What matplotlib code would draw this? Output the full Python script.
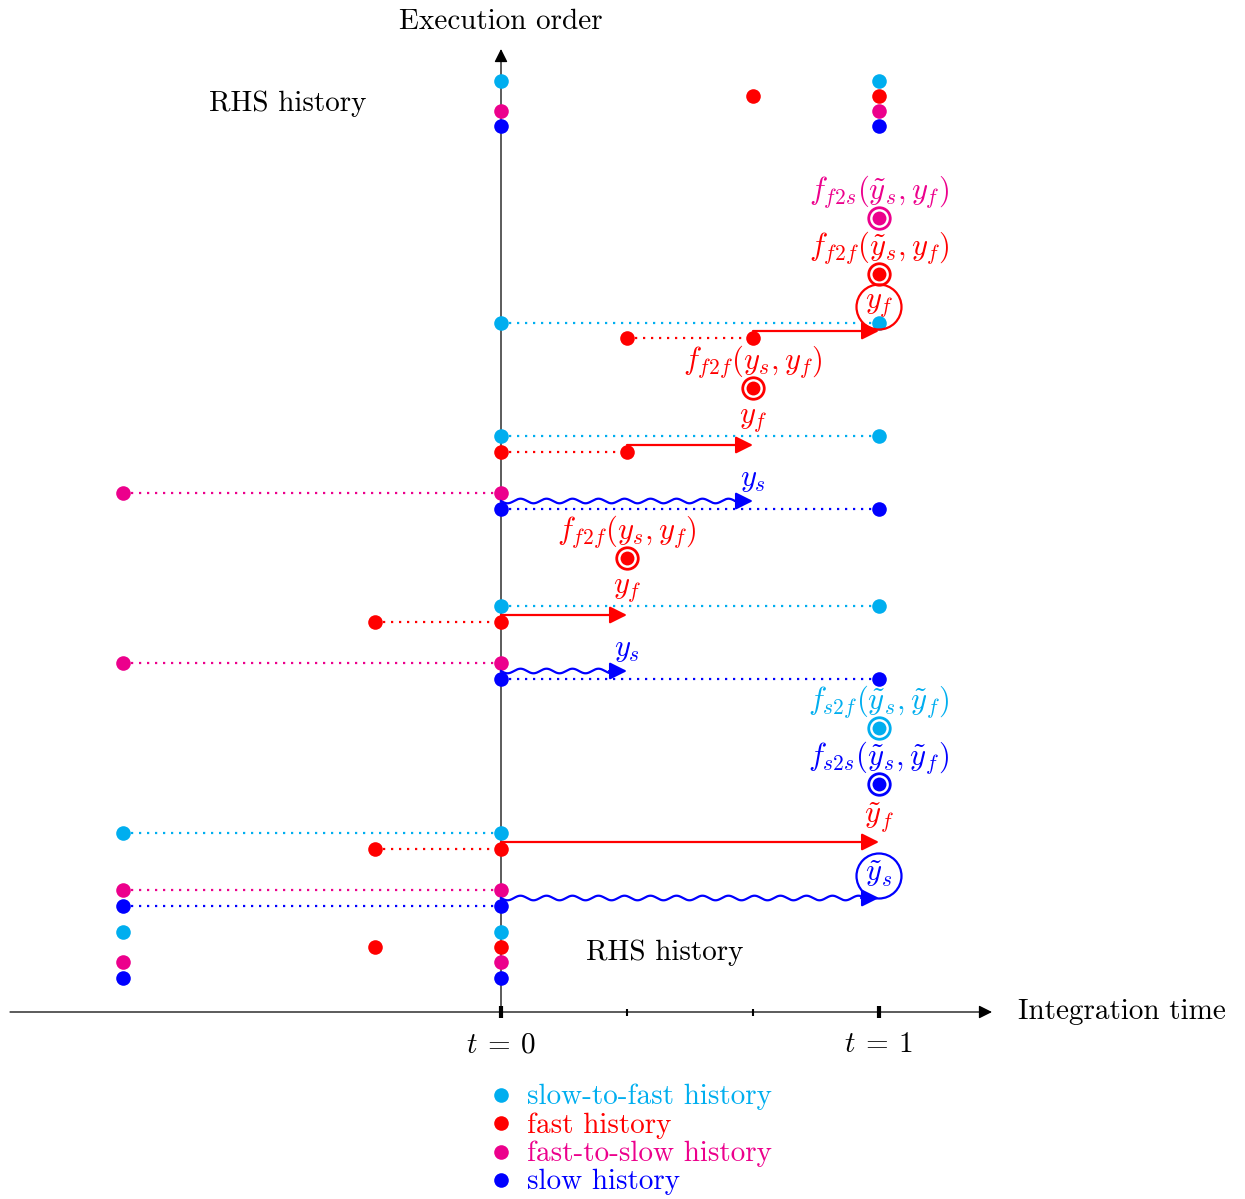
import numpy as np
import matplotlib
matplotlib.use("Agg")
import matplotlib.pyplot as plt
from matplotlib.patches import FancyArrowPatch, Ellipse

plt.rcParams['mathtext.fontset'] = 'cm'
plt.rcParams['font.family'] = ['cmr10', 'DejaVu Serif']
plt.rcParams['axes.unicode_minus'] = False

CYAN = '#00AEEF'
RED = '#FF0000'
MAG = '#EC008C'
BLUE = '#0000FF'

# ---------------- data ----------------
# history points: (t, execution-order level)
cyan_t = [-1, 0, -1, 0, 0, 1, 0, 1, 0, 1, 0, 1]
cyan_y = [80, 80, 179, 179, 406, 406, 576, 576, 689, 689, 931, 931]
red_t = [-1/3, 0, -1/3, 0, -1/3, 0, 0, 1/3, 1/3, 2/3, 2/3, 1]
red_y = [65, 65, 163, 163, 390, 390, 560, 560, 674, 674, 916, 916]
mag_t = [-1, 0, -1, 0, -1, 0, -1, 0, 0, 1]
mag_y = [50, 50, 122, 122, 349, 349, 519, 519, 901, 901]
blue_t = [-1, 0, -1, 0, 0, 1, 0, 1, 0, 1]
blue_y = [34, 34, 106, 106, 333, 333, 503, 503, 886, 886]

# dotted connectors: (t_start, t_end, level)
cyan_links = [(-1, 0, 179), (0, 1, 406), (0, 1, 576), (0, 1, 689)]
red_links = [(-1/3, 0, 163), (-1/3, 0, 390), (0, 1/3, 560), (1/3, 2/3, 674)]
mag_links = [(-1, 0, 122), (-1, 0, 349), (-1, 0, 519)]
blue_links = [(-1, 0, 106), (0, 1, 333), (0, 1, 503)]

# fast (straight) steps: (t_start, t_end, level, label)
fast_steps = [(0, 1, 170, r'$\tilde{y}_f$'), (0, 1/3, 397, r'$y_f$'),
              (1/3, 2/3, 567, r'$y_f$'), (2/3, 1, 681, None)]
# slow (wavy) steps
slow_steps = [(0, 1, 114, None), (0, 1/3, 341, r'$y_s$'), (0, 2/3, 511, r'$y_s$')]

# RHS evaluations: (color, t, level, label)
rhs_evals = [
    (BLUE, 1, 228, r'$f_{s2s}(\tilde{y}_s, \tilde{y}_f)$'),
    (CYAN, 1, 284, r'$f_{s2f}(\tilde{y}_s, \tilde{y}_f)$'),
    (RED, 1/3, 454, r'$f_{f2f}(y_s, y_f)$'),
    (RED, 2/3, 624, r'$f_{f2f}(y_s, y_f)$'),
    (RED, 1, 738, r'$f_{f2f}(\tilde{y}_s, y_f)$'),
    (MAG, 1, 794, r'$f_{f2s}(\tilde{y}_s, y_f)$'),
]
# circled state labels: (color, t, level, label)
circled = [(RED, 1, 705, r'$y_f$'), (BLUE, 1, 136, r'$\tilde{y}_s$')]

legend_labels = ['slow-to-fast history', 'fast history', 'fast-to-slow history', 'slow history']
legend_colors = [CYAN, RED, MAG, BLUE]

# ---------------- figure ----------------
W, H = 1245, 1199
fig = plt.figure(figsize=(W / 100, H / 100), dpi=100)
ax = fig.add_axes([0, 0, 1, 1])
ux = 378.0  # px per unit t
ax.set_xlim(-501 / ux, (W - 501) / ux)
ax.set_ylim(1012 - H, 1012)
ax.axis('off')

sx = 1 / ux  # one pixel in t units
FS = 21
MFS = 22

# axes
ax.add_patch(FancyArrowPatch((-491 * sx, 0), (491 * sx, 0), arrowstyle='-|>',
                             mutation_scale=20, color='black', lw=0.9,
                             shrinkA=0, shrinkB=0, zorder=1))
ax.add_patch(FancyArrowPatch((0, 0), (0, 963), arrowstyle='-|>',
                             mutation_scale=20, color='black', lw=0.9,
                             shrinkA=0, shrinkB=0, zorder=1))
for t, lw, h in [(0, 3, 6), (1, 3, 6), (1/3, 1.5, 3.5), (2/3, 1.5, 3.5)]:
    ax.plot([t, t], [-h, h], color='black', lw=lw, solid_capstyle='butt', zorder=2)
ax.text(0, -33, r'$t\:=\:0$', ha='center', va='center', fontsize=FS)
ax.text(1, -33, r'$t\:=\:1$', ha='center', va='center', fontsize=FS)
ax.text(0, 990, 'Execution order', ha='center', va='center', fontsize=FS)
ax.text(1.368, 0, 'Integration time', ha='left', va='center', fontsize=FS)
ax.text(-0.5635, 908, 'RHS history', ha='center', va='center', fontsize=FS)
ax.text(0.434, 59, 'RHS history', ha='center', va='center', fontsize=FS)

dot = dict(ls='none', marker='o', ms=10.5, mew=0, zorder=5)
dotted = dict(ls=(0, (1, 2.6)), lw=1.6, zorder=3)

for links, col in [(cyan_links, CYAN), (red_links, RED), (mag_links, MAG), (blue_links, BLUE)]:
    for a, b, y in links:
        ax.plot([a, b], [y, y], color=col, **dotted)

ax.plot(cyan_t, cyan_y, color=CYAN, **dot)
ax.plot(red_t, red_y, color=RED, **dot)
ax.plot(mag_t, mag_y, color=MAG, **dot)
ax.plot(blue_t, blue_y, color=BLUE, **dot)

# fast steps
for a, b, y, lab in fast_steps:
    ax.add_patch(FancyArrowPatch((a, y), (b, y), arrowstyle='-|>', mutation_scale=26,
                                 color=RED, lw=1.6, shrinkA=0, shrinkB=0, zorder=6))
    if lab:
        ax.text(b, y + 25, lab, color=RED, ha='center', va='center', fontsize=MFS)

# slow steps (wavy)
for a, b, y, lab in slow_steps:
    x_end = b - 16 * sx
    xs = np.linspace(a, x_end, 600)
    ys = y - 2.3 * np.sin(2 * np.pi * (xs - a) / (26 * sx))
    ax.plot(xs, ys, color=BLUE, lw=1.6, zorder=6)
    ax.add_patch(FancyArrowPatch((x_end - 2 * sx, y), (b, y), arrowstyle='-|>', mutation_scale=26,
                                 color=BLUE, lw=1.6, shrinkA=0, shrinkB=0, zorder=6))
    if lab:
        ax.text(b, y + 21, lab, color=BLUE, ha='center', va='center', fontsize=MFS)

# RHS evaluations
for col, t, y, lab in rhs_evals:
    ax.plot([t], [y], ls='none', marker='o', ms=15.5, mfc='white', mec=col, mew=2.0, zorder=6)
    ax.plot([t], [y], ls='none', marker='o', ms=10, mew=0, color=col, zorder=7)
    ax.text(t, y + 26, lab, color=col, ha='center', va='center', fontsize=MFS)

# circled labels
for col, t, y, lab in circled:
    ax.add_patch(Ellipse((t, y), 45 * sx, 45, fill=False, ec=col, lw=1.6, zorder=8))
    ax.text(t, y + 2, lab, color=col, ha='center', va='center', fontsize=MFS, zorder=9)

# legend
for i, (lab, col) in enumerate(zip(legend_labels, legend_colors)):
    yy = -83 - 28.3 * i
    ax.plot([0], [yy], color=col, **dot)
    ax.text(26 * sx, yy - 2, lab, color=col, ha='left', va='center', fontsize=FS)

fig.savefig('out.png', dpi=100)
